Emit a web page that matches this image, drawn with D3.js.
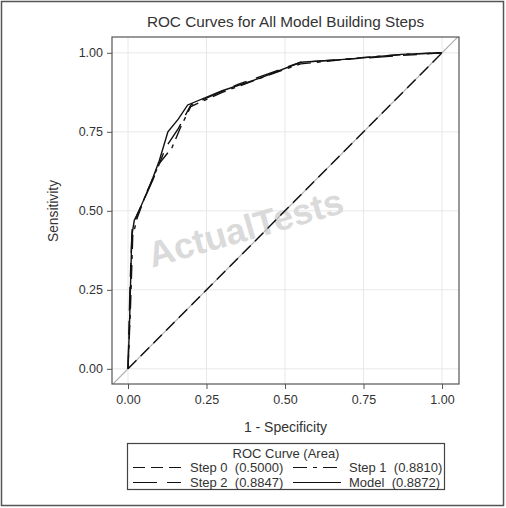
<!DOCTYPE html>
<html>
<head>
<meta charset="utf-8">
<script src="https://cdn.jsdelivr.net/npm/d3@7"></script>
<style>
  body { margin: 0; background: #fff; }
  svg text { font-family: "Liberation Sans", Arial, sans-serif; fill: #333; }
</style>
</head>
<body>
<div id="chart"></div>
<script>
// chart data
var xTicks = [0, 0.25, 0.5, 0.75, 1];
var yTicks = [0, 0.25, 0.5, 0.75, 1];

var step0X = [0, 1];
var step0Y = [0, 1];

var step1X = [0, 0.008, 0.015, 0.03, 0.06, 0.10, 0.14, 0.17, 0.20, 0.30, 0.45, 0.55, 0.75, 0.88, 1];
var step1Y = [0, 0.20, 0.42, 0.48, 0.56, 0.65, 0.70, 0.77, 0.83, 0.875, 0.93, 0.965, 0.985, 0.995, 1];

var step2X = [0, 0.006, 0.013, 0.03, 0.08, 0.12, 0.16, 0.20, 0.35, 0.55, 0.85, 1];
var step2Y = [0, 0.25, 0.44, 0.49, 0.60, 0.70, 0.76, 0.835, 0.90, 0.97, 0.99, 1];

var modelX = [0, 0.005, 0.012, 0.02, 0.035, 0.07, 0.10, 0.127, 0.16, 0.19, 0.30, 0.42, 0.55, 0.70, 0.87, 1];
var modelY = [0, 0.15, 0.42, 0.47, 0.50, 0.58, 0.66, 0.75, 0.79, 0.835, 0.88, 0.92, 0.97, 0.98, 0.995, 1];

var seriesNames = ["Step 0", "Step 1", "Step 2", "Model"];
var seriesAreas = ["0.5000", "0.8810", "0.8847", "0.8872"];
var seriesDash = ["12,6", "14,6,4,6", "24,10,14,10", null];

var W = 506, H = 508;
var svg = d3.select("#chart").append("svg").attr("width", W).attr("height", H);

// outer border
svg.append("rect").attr("x", 1.5).attr("y", 1.5).attr("width", W - 4).attr("height", H - 4)
  .attr("fill", "none").attr("stroke", "#555").attr("stroke-width", 1.5);

var frame = { left: 112, top: 37, right: 459, bottom: 384 };
var x = d3.scaleLinear().domain([-0.051, 1.054]).range([frame.left, frame.right]);
var y = d3.scaleLinear().domain([-0.048, 1.05]).range([frame.bottom, frame.top]);

// grid
var grid = svg.append("g");
grid.selectAll(".gx").data(xTicks).enter().append("line")
  .attr("x1", d => x(d)).attr("x2", d => x(d))
  .attr("y1", frame.top).attr("y2", frame.bottom)
  .attr("stroke", "#e8e8e8");
grid.selectAll(".gy").data(yTicks).enter().append("line")
  .attr("y1", d => y(d)).attr("y2", d => y(d))
  .attr("x1", frame.left).attr("x2", frame.right)
  .attr("stroke", "#e8e8e8");

// watermark
svg.append("text").attr("transform", "translate(249,240) rotate(-16)")
  .attr("text-anchor", "middle").attr("font-size", 36).attr("font-weight", "bold")
  .style("fill", "#dadada")
  .text("ActualTests");

// reference diagonal
svg.append("clipPath").attr("id", "clip").append("rect")
  .attr("x", frame.left).attr("y", frame.top)
  .attr("width", frame.right - frame.left).attr("height", frame.bottom - frame.top);
svg.append("line")
  .attr("clip-path", "url(#clip)")
  .attr("x1", x(-0.06)).attr("y1", y(-0.06)).attr("x2", x(1.06)).attr("y2", y(1.06))
  .attr("stroke", "#b0b0b0").attr("stroke-width", 1.2);

// curves
var line = d3.line().x(d => x(d[0])).y(d => y(d[1]));
var curves = [
  d3.zip(step0X, step0Y),
  d3.zip(step1X, step1Y),
  d3.zip(step2X, step2Y),
  d3.zip(modelX, modelY)
];
svg.append("g").selectAll("path").data(curves).enter().append("path")
  .attr("d", line)
  .attr("fill", "none")
  .attr("stroke", "#111")
  .attr("stroke-width", 1.4)
  .attr("stroke-dasharray", (d, i) => seriesDash[i]);

// frame
svg.append("rect").attr("x", frame.left).attr("y", frame.top)
  .attr("width", frame.right - frame.left).attr("height", frame.bottom - frame.top)
  .attr("fill", "none").attr("stroke", "#555").attr("stroke-width", 1.2);

// axes
var xAxis = d3.axisBottom(x).tickValues(xTicks).tickFormat(d3.format(".2f")).tickSize(5).tickPadding(6);
var yAxis = d3.axisLeft(y).tickValues(yTicks).tickFormat(d3.format(".2f")).tickSize(5).tickPadding(4);
var gx = svg.append("g").attr("transform", "translate(0," + frame.bottom + ")").call(xAxis);
var gy = svg.append("g").attr("transform", "translate(" + frame.left + ",0)").call(yAxis);
[gx, gy].forEach(g => {
  g.select(".domain").remove();
  g.selectAll(".tick line").attr("stroke", "#555");
  g.selectAll(".tick text").attr("font-size", 12.5).attr("fill", "#333")
    .style("font-family", "'Liberation Sans', Arial, sans-serif");
});

// title and labels
svg.append("text").attr("x", (frame.left + frame.right) / 2).attr("y", 27)
  .attr("text-anchor", "middle").attr("font-size", 15.3)
  .text("ROC Curves for All Model Building Steps");
svg.append("text").attr("x", (frame.left + frame.right) / 2).attr("y", 432)
  .attr("text-anchor", "middle").attr("font-size", 14)
  .text("1 - Specificity");
svg.append("text").attr("transform", "translate(58,211) rotate(-90)")
  .attr("text-anchor", "middle").attr("font-size", 13.8)
  .text("Sensitivity");

// legend
var legend = svg.append("g");
legend.append("rect").attr("x", 127.5).attr("y", 443.5).attr("width", 317).attr("height", 46)
  .attr("fill", "none").attr("stroke", "#444").attr("stroke-width", 1.2);
legend.append("text").attr("x", 286).attr("y", 458).attr("text-anchor", "middle")
  .attr("font-size", 13).text("ROC Curve (Area)");

var cols = [133, 293];
var rows = [472, 487];
var items = legend.selectAll(".item").data(seriesNames).enter().append("g")
  .attr("transform", (d, i) => "translate(" + cols[i % 2] + "," + rows[Math.floor(i / 2)] + ")");
items.append("line").attr("x1", 0).attr("x2", 48).attr("y1", -4.5).attr("y2", -4.5)
  .attr("stroke", "#111").attr("stroke-width", 1.2)
  .attr("stroke-dasharray", (d, i) => seriesDash[i]);
items.append("text").attr("x", (d, i) => i % 2 === 0 ? 57 : 56).attr("y", 0)
  .attr("font-size", 13).style("white-space", "pre")
  .text((d, i) => d + "  (" + seriesAreas[i] + ")");
</script>
</body>
</html>
